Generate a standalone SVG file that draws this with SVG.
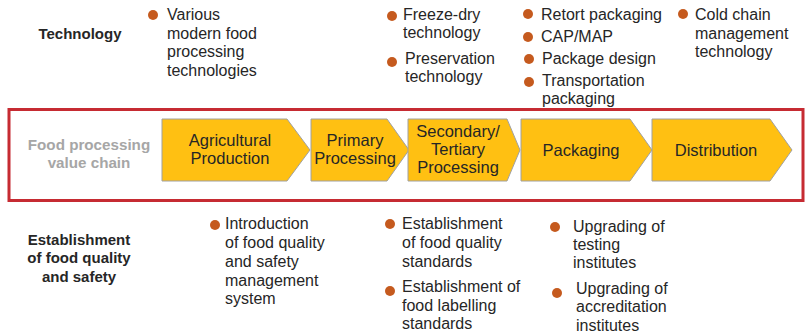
<svg xmlns="http://www.w3.org/2000/svg" width="807" height="336" viewBox="0 0 807 336">
<style>
.t{font-family:"Liberation Sans",Arial,sans-serif;font-size:16px;fill:#262626}
.h{font-family:"Liberation Sans",Arial,sans-serif;font-size:15px;font-weight:bold;fill:#262626}
.g{font-family:"Liberation Sans",Arial,sans-serif;font-size:15.2px;font-weight:bold;fill:#A6A6A6}
.c{font-family:"Liberation Sans",Arial,sans-serif;font-size:16.5px;fill:#262626;text-anchor:middle}
.b{fill:#C55A1E}
.ch{fill:#FFC012;stroke:#A0A0A0;stroke-width:1}
</style>
<rect x="0" y="0" width="807" height="336" fill="#FFFFFF"/>
<g id="frame"><rect x="9" y="109.5" width="794" height="91" fill="none" stroke="#C62B32" stroke-width="3"/></g>
<g id="label-technology"><text class="h" x="80" y="39" text-anchor="middle">Technology</text></g>
<g id="label-chain"><text class="g" x="89" y="150" text-anchor="middle">Food processing</text><text class="g" x="89" y="168" text-anchor="middle">value chain</text></g>
<g id="label-quality"><text class="h" x="79" y="245" text-anchor="middle">Establishment</text><text class="h" x="79" y="263" text-anchor="middle">of food quality</text><text class="h" x="79" y="282" text-anchor="middle">and safety</text></g>
<g id="connectors"/>
<g id="n1"><path class="ch" d="M162,119 H287 L310,150 L287,181 H162 Z"/><text class="c" x="230" y="146">Agricultural</text><text class="c" x="230" y="164">Production</text></g>
<g id="n2"><path class="ch" d="M311,119 H387 L409,150 L387,181 H311 Z"/><text class="c" x="355" y="146">Primary</text><text class="c" x="355" y="164">Processing</text></g>
<g id="n3"><path class="ch" d="M408,119 H507 L520,150 L507,181 H408 Z"/><text class="c" x="458" y="137">Secondary/</text><text class="c" x="458" y="155">Tertiary</text><text class="c" x="458" y="173">Processing</text></g>
<g id="n4"><path class="ch" d="M521,119 H630 L652,150 L630,181 H521 Z"/><text class="c" x="581" y="156">Packaging</text></g>
<g id="n5"><path class="ch" d="M652,119 H770 L792,150 L770,181 H652 Z"/><text class="c" x="716" y="156">Distribution</text></g>
<g id="tech-1"><circle class="b" cx="153" cy="15" r="5"/><text class="t" x="167" y="20">Various</text><text class="t" x="167" y="39">modern food</text><text class="t" x="167" y="57">processing</text><text class="t" x="167" y="76">technologies</text></g>
<g id="tech-2"><circle class="b" cx="392" cy="16" r="5"/><text class="t" x="403" y="20">Freeze-dry</text><text class="t" x="403" y="38">technology</text></g>
<g id="tech-3"><circle class="b" cx="392" cy="62" r="5"/><text class="t" x="405" y="64">Preservation</text><text class="t" x="405" y="82">technology</text></g>
<g id="tech-4"><circle class="b" cx="528" cy="14" r="5"/><text class="t" x="541" y="20">Retort packaging</text></g>
<g id="tech-5"><circle class="b" cx="528" cy="37" r="5"/><text class="t" x="541" y="42">CAP/MAP</text></g>
<g id="tech-6"><circle class="b" cx="529" cy="59" r="5"/><text class="t" x="542" y="64">Package design</text></g>
<g id="tech-7"><circle class="b" cx="529" cy="82" r="5"/><text class="t" x="542" y="86">Transportation</text><text class="t" x="542" y="104">packaging</text></g>
<g id="tech-8"><circle class="b" cx="683" cy="14" r="5"/><text class="t" x="695" y="20">Cold chain</text><text class="t" x="695" y="39">management</text><text class="t" x="695" y="57">technology</text></g>
<g id="qs-1"><circle class="b" cx="215" cy="225" r="5"/><text class="t" x="225" y="229">Introduction</text><text class="t" x="225" y="248">of food quality</text><text class="t" x="225" y="267">and safety</text><text class="t" x="225" y="286">management</text><text class="t" x="225" y="304">system</text></g>
<g id="qs-2"><circle class="b" cx="390" cy="224" r="5"/><text class="t" x="402" y="229">Establishment</text><text class="t" x="402" y="248">of food quality</text><text class="t" x="402" y="267">standards</text></g>
<g id="qs-3"><circle class="b" cx="390" cy="291" r="5"/><text class="t" x="402" y="292">Establishment of</text><text class="t" x="402" y="311">food labelling</text><text class="t" x="402" y="329">standards</text></g>
<g id="qs-4"><circle class="b" cx="555" cy="227" r="5"/><text class="t" x="573" y="232">Upgrading of</text><text class="t" x="573" y="250">testing</text><text class="t" x="573" y="268">institutes</text></g>
<g id="qs-5"><circle class="b" cx="557" cy="293" r="5"/><text class="t" x="576" y="294">Upgrading of</text><text class="t" x="576" y="312">accreditation</text><text class="t" x="576" y="331">institutes</text></g>
</svg>
